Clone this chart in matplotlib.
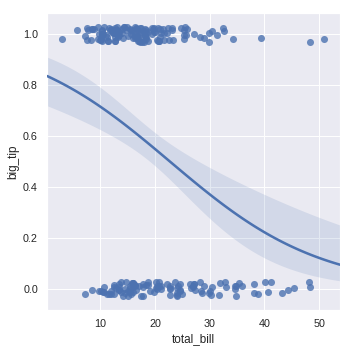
import numpy as np
import matplotlib
matplotlib.use("Agg")
import matplotlib.pyplot as plt
import seaborn as sns

total_bill = [
    16.99, 10.34, 21.01, 23.68, 24.59, 25.29, 8.77, 26.88, 15.04, 14.78,
    10.27, 35.26, 15.42, 18.43, 14.83, 21.58, 10.33, 16.29, 16.97, 20.65,
    17.92, 20.29, 15.77, 39.42, 19.82, 17.81, 13.37, 12.69, 21.70, 19.65,
    9.55, 18.35, 15.06, 20.69, 17.78, 24.06, 16.31, 16.93, 18.69, 31.27,
    16.04, 17.46, 13.94, 9.68, 30.40, 18.29, 22.23, 32.40, 28.55, 18.04,
    12.54, 10.29, 34.81, 9.94, 25.56, 19.49, 38.01, 26.41, 11.24, 48.27,
    20.29, 13.81, 11.02, 18.29, 17.59, 20.08, 16.45, 3.07, 20.23, 15.01,
    12.02, 17.07, 26.86, 25.28, 14.73, 10.51, 17.92, 27.20, 22.76, 17.29,
    19.44, 16.66, 10.07, 32.68, 15.98, 34.83, 13.03, 18.28, 24.71, 21.16,
    28.97, 22.49, 5.75, 16.32, 22.75, 40.17, 27.28, 12.03, 21.01, 12.46,
    11.35, 15.38, 44.30, 22.42, 20.92, 15.36, 20.49, 25.21, 18.24, 14.31,
    14.00, 7.25, 38.07, 23.95, 25.71, 17.31, 29.93, 10.65, 12.43, 24.08,
    11.69, 13.42, 14.26, 15.95, 12.48, 29.80, 8.52, 14.52, 11.38, 22.82,
    19.08, 20.27, 11.17, 12.26, 18.26, 8.51, 10.33, 14.15, 16.00, 13.16,
    17.47, 34.30, 41.19, 27.05, 16.43, 8.35, 18.64, 11.87, 9.78, 7.51,
    14.07, 13.13, 17.26, 24.55, 19.77, 29.85, 48.17, 25.00, 13.39, 16.49,
    21.50, 12.66, 16.21, 13.81, 17.51, 24.52, 20.76, 31.71, 10.59, 10.63,
    50.81, 15.81, 7.25, 31.85, 16.82, 32.90, 17.89, 14.48, 9.60, 34.63,
    34.65, 23.33, 45.35, 23.17, 40.55, 20.69, 20.90, 30.46, 18.15, 23.10,
    15.69, 19.81, 28.44, 15.48, 16.58, 7.56, 10.34, 43.11, 13.00, 13.51,
    18.71, 12.74, 13.00, 16.40, 20.53, 16.47, 26.59, 38.73, 24.27, 12.76,
    30.06, 25.89, 48.33, 13.27, 28.17, 12.90, 28.15, 11.59, 7.74, 30.14,
    12.16, 13.42, 8.58, 15.98, 13.42, 16.27, 10.09, 20.45, 13.28, 22.12,
    24.01, 15.69, 11.61, 10.77, 15.53, 10.07, 12.60, 32.83, 35.83, 29.03,
    27.18, 22.67, 17.82, 18.78,
]

tip = [
    1.01, 1.66, 3.50, 3.31, 3.61, 4.71, 2.00, 3.12, 1.96, 3.23,
    1.71, 5.00, 1.57, 3.00, 3.02, 3.92, 1.67, 3.71, 3.50, 3.35,
    4.08, 2.75, 2.23, 7.58, 3.18, 2.34, 2.00, 2.00, 4.30, 3.00,
    1.45, 2.50, 3.00, 2.45, 3.27, 3.60, 2.00, 3.07, 2.31, 5.00,
    2.24, 2.54, 3.06, 1.32, 5.60, 3.00, 5.00, 6.00, 2.05, 3.00,
    2.50, 2.60, 5.20, 1.56, 4.34, 3.51, 3.00, 1.50, 1.76, 6.73,
    3.21, 2.00, 1.98, 3.76, 2.64, 3.15, 2.47, 1.00, 2.01, 2.09,
    1.97, 3.00, 3.14, 5.00, 2.20, 1.25, 3.08, 4.00, 3.00, 2.71,
    3.00, 3.40, 1.83, 5.00, 2.03, 5.17, 2.00, 4.00, 5.85, 3.00,
    3.00, 3.50, 1.00, 4.30, 3.25, 4.73, 4.00, 1.50, 3.00, 1.50,
    2.50, 3.00, 2.50, 3.48, 4.08, 1.64, 4.06, 4.29, 3.76, 4.00,
    3.00, 1.00, 4.00, 2.55, 4.00, 3.50, 5.07, 1.50, 1.80, 2.92,
    2.31, 1.68, 2.50, 2.00, 2.52, 4.20, 1.48, 2.00, 2.00, 2.18,
    1.50, 2.83, 1.50, 2.00, 3.25, 1.25, 2.00, 2.00, 2.00, 2.75,
    3.50, 6.70, 5.00, 5.00, 2.30, 1.50, 1.36, 1.63, 1.73, 2.00,
    2.50, 2.00, 2.74, 2.00, 2.00, 5.14, 5.00, 3.75, 2.61, 2.00,
    3.50, 2.50, 2.00, 2.00, 3.00, 3.48, 2.24, 4.50, 1.61, 2.00,
    10.00, 3.16, 5.15, 3.18, 4.00, 3.11, 2.00, 2.00, 4.00, 3.55,
    3.68, 5.65, 3.50, 6.50, 3.00, 5.00, 3.50, 2.00, 3.50, 4.00,
    1.50, 4.19, 2.56, 2.02, 4.00, 1.44, 2.00, 5.00, 2.00, 2.00,
    4.00, 2.01, 2.00, 2.50, 4.00, 3.23, 3.41, 3.00, 2.03, 2.23,
    2.00, 5.16, 9.00, 2.50, 6.50, 1.10, 3.00, 1.50, 1.44, 3.09,
    2.20, 3.48, 1.92, 3.00, 1.58, 2.50, 2.00, 3.00, 2.72, 2.88,
    2.00, 3.00, 3.39, 1.47, 3.00, 1.25, 1.00, 1.17, 4.67, 5.92,
    2.00, 2.00, 1.75, 3.00,
]

# vertical jitter of each point as drawn (thousandths)
y_jitter_milli = [
    12, -25, 3, 28, -9, -17, 21, 6, -29, 15,
    -4, 24, -13, 9, 27, -22, 1, -7, 18, -26,
    11, -1, 25, -15, 7, -28, 19, -10, 4, 22,
    -19, 14, -6, 29, -23, 2, 16, -12, 26, -3,
    8, -27, 20, -8, 13, -20, 5, 23, -14, -30,
    17, -5, 10, -24, 28, 0, -16, 21, -11, 6,
    -21, 27, -2, 15, -29, 9, 24, -18, 3, -9,
    19, -26, 12, -4, 29, -13, 7, 18, -22, 1,
    25, -7, -17, 14, 22, -28, 5, -10, 26, -1,
    11, -24, 17, -15, 2, 28, -6, -20, 13, 8,
    -27, 20, -3, 23, -12, 10, -25, 16, -8, 27,
    4, -19, 21, -14, -2, 25, -29, 9, 14, -23,
    18, -5, 29, -11, 6, -16, 22, 0, -26, 12,
    -9, 26, -21, 3, 19, -4, 15, -28, 24, -13,
    7, -18, 28, -1, 11, -24, 17, -7, 2, 23,
    -15, 13, -30, 20, -10, 5, 27, -20, 8, -3,
    21, -27, 16, -12, 25, -6, 10, -22, 1, 29,
    -17, 14, -8, 22, -25, 6, 18, -14, 27, -2,
    12, -21, 4, 24, -11, -28, 19, 9, -5, 15,
    -19, 26, -9, 3, 21, -23, 13, -16, 28, -4,
    8, -26, 17, -1, 23, -13, 5, -20, 11, 25,
    -7, 20, -29, 14, -10, 2, 27, -18, 16, -24,
    9, -3, 22, -15, 6, 28, -22, 12, -6, 19,
    -27, 1, 24, -12, 15, -8, -21, 26, 10, -16,
    18, -2, 7, -25,
]

big_tip_threshold = 0.15

x = np.array(total_bill)
t = np.array(tip)
big_tip = (t / x > big_tip_threshold).astype(float)
y_plot = big_tip + np.array(y_jitter_milli) / 1000.0

sns.set_theme(style="darkgrid")
plt.rcParams["font.family"] = ["Liberation Sans", "DejaVu Sans"]

fig = plt.figure(figsize=(5, 5), dpi=70.4)
ax = fig.add_axes([0.134, 0.119, 0.832, 0.844])

color = sns.color_palette("deep")[0]
ax.scatter(x, y_plot, s=52, color=color, alpha=0.8, linewidths=0, zorder=2)

ax.set_xlim(0.3, 53.8)
ax.set_ylim(-0.083, 1.083)

# logistic regression fit (IRLS)
X = np.column_stack([np.ones_like(x), x])
beta = np.zeros(2)
for _ in range(50):
    eta = X @ beta
    p = 1 / (1 + np.exp(-eta))
    W = p * (1 - p)
    H = X.T @ (X * W[:, None])
    g = X.T @ (big_tip - p)
    beta = beta + np.linalg.solve(H, g)
eta = X @ beta
p = 1 / (1 + np.exp(-eta))
cov = np.linalg.inv(X.T @ (X * (p * (1 - p))[:, None]))

xg = np.linspace(0.3, 53.8, 100)
Xg = np.column_stack([np.ones_like(xg), xg])
eg = Xg @ beta
se = np.sqrt(np.einsum("ij,jk,ik->i", Xg, cov, Xg))
sig = lambda v: 1 / (1 + np.exp(-v))
ax.fill_between(xg, sig(eg - 1.96 * se), sig(eg + 1.96 * se), color=color, alpha=0.15, linewidth=0, zorder=1)
ax.plot(xg, sig(eg), color=color, lw=2.6, zorder=3)

ax.set_xticks([10, 20, 30, 40, 50])
ax.set_yticks([0.0, 0.2, 0.4, 0.6, 0.8, 1.0])
ax.set_xlabel("total_bill")
ax.set_ylabel("big_tip")

fig.savefig("out.png", dpi=70.4)
